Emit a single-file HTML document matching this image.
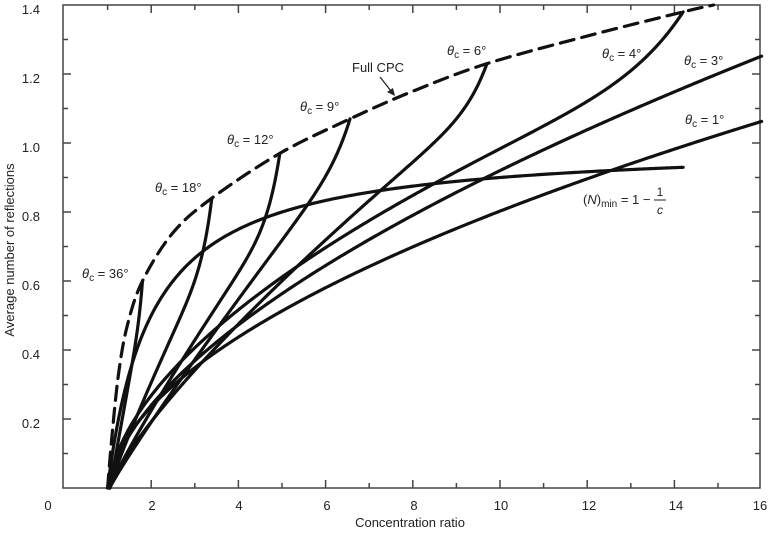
<!DOCTYPE html>
<html><head><meta charset="utf-8"><style>
html,body{margin:0;padding:0;background:#fff}
svg{display:block}
text{font-family:"Liberation Sans",Arial,sans-serif;fill:#222}
</style></head><body>
<svg id="s" width="768" height="533" viewBox="0 0 768 533">
<g id="ax" stroke="#444" stroke-width="1.5" fill="none">
<rect x="63" y="5" width="697" height="483"/>
</g>
<g id="curves" fill="none" stroke="#111" stroke-width="3.2" stroke-linecap="round" stroke-linejoin="round"></g>
<g font-size="13">
<text x="48" y="510" text-anchor="middle">0</text>
<text x="152" y="510" text-anchor="middle">2</text>
<text x="239" y="510" text-anchor="middle">4</text>
<text x="327" y="510" text-anchor="middle">6</text>
<text x="414" y="510" text-anchor="middle">8</text>
<text x="501" y="510" text-anchor="middle">10</text>
<text x="589" y="510" text-anchor="middle">12</text>
<text x="676" y="510" text-anchor="middle">14</text>
<text x="760" y="510" text-anchor="middle">16</text>
<text x="40" y="428" text-anchor="end">0.2</text>
<text x="40" y="359" text-anchor="end">0.4</text>
<text x="40" y="290" text-anchor="end">0.6</text>
<text x="40" y="221" text-anchor="end">0.8</text>
<text x="40" y="152" text-anchor="end">1.0</text>
<text x="40" y="83" text-anchor="end">1.2</text>
<text x="40" y="14" text-anchor="end">1.4</text>
<text x="410" y="527" text-anchor="middle">Concentration ratio</text>
<text transform="translate(14,250) rotate(-90)" text-anchor="middle">Average number of reflections</text>
</g>
<g font-size="13">
<text x="82" y="278"><tspan font-style="italic">θ</tspan><tspan font-size="10" dy="3">c</tspan><tspan dy="-3"> = 36°</tspan></text>
<text x="155" y="192"><tspan font-style="italic">θ</tspan><tspan font-size="10" dy="3">c</tspan><tspan dy="-3"> = 18°</tspan></text>
<text x="227" y="144"><tspan font-style="italic">θ</tspan><tspan font-size="10" dy="3">c</tspan><tspan dy="-3"> = 12°</tspan></text>
<text x="300" y="111"><tspan font-style="italic">θ</tspan><tspan font-size="10" dy="3">c</tspan><tspan dy="-3"> = 9°</tspan></text>
<text x="447" y="55"><tspan font-style="italic">θ</tspan><tspan font-size="10" dy="3">c</tspan><tspan dy="-3"> = 6°</tspan></text>
<text x="602" y="58"><tspan font-style="italic">θ</tspan><tspan font-size="10" dy="3">c</tspan><tspan dy="-3"> = 4°</tspan></text>
<text x="684" y="65"><tspan font-style="italic">θ</tspan><tspan font-size="10" dy="3">c</tspan><tspan dy="-3"> = 3°</tspan></text>
<text x="685" y="124"><tspan font-style="italic">θ</tspan><tspan font-size="10" dy="3">c</tspan><tspan dy="-3"> = 1°</tspan></text>
<text x="352" y="72">Full CPC</text>
<text x="583" y="204">(<tspan font-style="italic">N</tspan>)<tspan font-size="10" dy="3">min</tspan><tspan dy="-3"> = 1 − </tspan></text>
<text x="660" y="196" font-size="12" text-anchor="middle">1</text>
<text x="660" y="214" font-size="12" text-anchor="middle" font-style="italic">c</text>
</g>
<line x1="654" y1="200" x2="666" y2="200" stroke="#222" stroke-width="1"/>
<line x1="380" y1="77" x2="391" y2="91" stroke="#222" stroke-width="1.2"/>
<polygon points="395,96 387,92 393,88" fill="#222"/>
</svg>
<script>
const NS="http://www.w3.org/2000/svg";
const ax=document.getElementById('ax'), cg=document.getElementById('curves');
function X(c){return 64+43.6*c} function Y(v){return 488-345*v}
for(let c=1;c<16;c++){const x=X(c),L=c%2==0?8:5;
 ax.insertAdjacentHTML('beforeend',`<line x1="${x}" y1="488" x2="${x}" y2="${488-L}"/><line x1="${x}" y1="5" x2="${x}" y2="${5+L}"/>`);}
for(let i=1;i<14;i++){const y=Y(i/10),L=i%2==0?8:5;
 ax.insertAdjacentHTML('beforeend',`<line x1="63" y1="${y}" x2="${63+L}" y2="${y}"/><line x1="760" y1="${y}" x2="${760-L}" y2="${y}"/>`);}
function pathFn(f,c0,c1){let d='';const n=300;
 for(let i=0;i<=n;i++){const c=c0+(c1-c0)*i/n;d+=(i?'L':'M')+X(c).toFixed(2)+','+Y(f(c)).toFixed(2);}
 const e=document.createElementNS(NS,'path');e.setAttribute('d',d);cg.appendChild(e);}
const c0=1.05;
function hooked(a,p,cend,vend,k){
 const b=c=>a*Math.pow(Math.max(c-c0,0),p);
 const ex=vend-b(cend);
 pathFn(c=>b(c)+ex*Math.pow((c-1)/(cend-1),k),c0,cend);}
pathFn(c=>0.242*Math.pow(c-c0,0.547),c0,16);
pathFn(c=>0.247*Math.pow(c-c0,0.6),c0,16);
hooked(0.276,0.579,14.2,1.38,12);
hooked(0.2,0.8,9.7,1.23,20);
hooked(0.2,0.93,6.56,1.07,15);
hooked(0.235,0.9,4.95,0.97,15);
hooked(0.32,0.9,3.39,0.84,12);
hooked(0.7,1,1.8,0.6,10);
pathFn(c=>1-1/c,1,14.2);
function cr(p){let d=`M${p[0][0]},${p[0][1]}`;
 for(let i=0;i<p.length-1;i++){const p0=p[i-1]||p[i],p1=p[i],p2=p[i+1],p3=p[i+2]||p2;
  d+=` C${p1[0]+(p2[0]-p0[0])/6},${p1[1]+(p2[1]-p0[1])/6} ${p2[0]-(p3[0]-p1[0])/6},${p2[1]-(p3[1]-p1[1])/6} ${p2[0]},${p2[1]}`;}
 return d;}
const pts=[[1.0,0],[1.1,0.15],[1.25,0.33],[1.45,0.47],[1.8,0.6],[2.5,0.74],[3.39,0.84],[4.95,0.97],[6.56,1.07],[8,1.15],[9.7,1.23],[12,1.31],[14.2,1.38],[14.9,1.4]].map(p=>[X(p[0]),Y(p[1])]);
const e=document.createElementNS(NS,'path');e.setAttribute('d',cr(pts));e.setAttribute('stroke-dasharray','14 8');cg.appendChild(e);
</script>
</body></html>
